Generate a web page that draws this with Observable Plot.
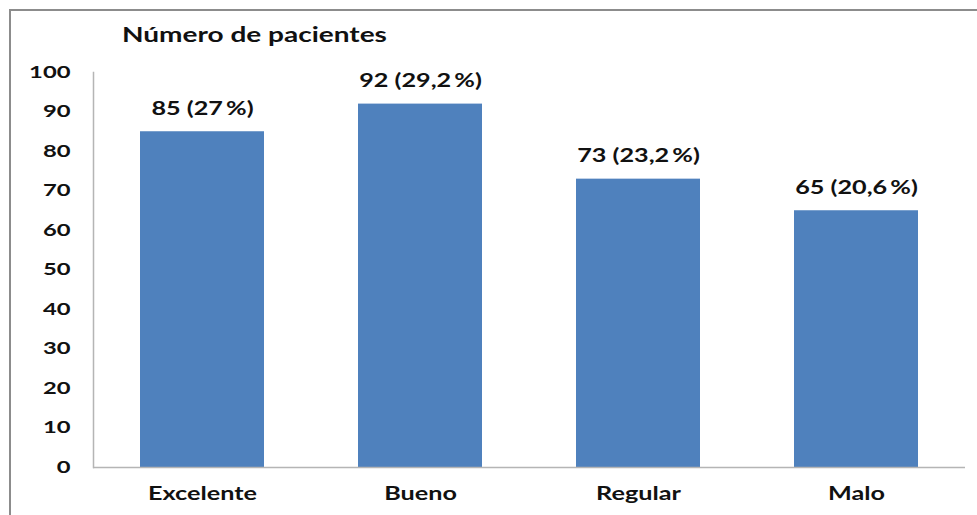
<!DOCTYPE html>
<html>
<head>
<meta charset="utf-8">
<script src="https://cdn.jsdelivr.net/npm/d3@7"></script>
<script src="https://cdn.jsdelivr.net/npm/@observablehq/plot@0.6"></script>
<style>
  html, body { margin: 0; padding: 0; background: #fff; }
  #wrap { position: relative; width: 977px; height: 515px; overflow: hidden; font-family: Lato, "Open Sans", sans-serif; }
  #border { position: absolute; left: 9px; top: 9px; width: 1000px; height: 600px; border: 2px solid #8c8c8c; box-sizing: border-box; }
  #title { position: absolute; left: 122px; top: 22px; font-size: 20px; font-weight: bold; color: #111; transform: scaleX(1.4); transform-origin: left center; white-space: nowrap; }
  #chart { position: absolute; left: 0; top: 0; }
</style>
</head>
<body>
<div id="wrap">
  <div id="border"></div>
  <div id="title">Número de pacientes</div>
  <div id="chart"></div>
</div>
<script>
const categories = ["Excelente", "Bueno", "Regular", "Malo"];
const values = [85, 92, 73, 65];
const percents = ["27", "29,2", "23,2", "20,6"];
const yTicks = [0, 10, 20, 30, 40, 50, 60, 70, 80, 90, 100];

const rows = categories.map((c, i) => ({
  category: c,
  value: values[i],
  label: `${values[i]} (${percents[i]}\u2009%)`
}));

const chart = Plot.plot({
  width: 977,
  height: 515,
  marginLeft: 93,
  marginRight: 12,
  marginTop: 72,
  marginBottom: 48,
  style: { fontFamily: "Lato, 'Open Sans', sans-serif", background: "transparent", color: "#111" },
  x: { domain: categories, paddingInner: 0.43, paddingOuter: 0.215, label: null },
  y: { domain: [0, 100], label: null },
  marks: [
    Plot.barY(rows, { x: "category", y: "value", fill: "#4f81bd" }),
    Plot.ruleY([0], { stroke: "#b5b5b5", strokeWidth: 1.5 }),
    Plot.frame({ anchor: "left", stroke: "#b5b5b5", strokeWidth: 1.5 }),
    Plot.axisY(yTicks, { tickSize: 0, tickPadding: 23, fontSize: 17, fontWeight: "bold", label: null }),
    Plot.axisX({ tickSize: 0, tickPadding: 20, fontSize: 18, fontWeight: "bold", label: null }),
    Plot.text(rows, { x: "category", y: "value", text: "label", dy: -23, fontSize: 18, fontWeight: "bold", fill: "#111" })
  ]
});
document.getElementById("chart").appendChild(chart);

// Widen the lettering horizontally, keeping each label's anchor in place.
d3.select(chart).selectAll("text").each(function () {
  const w = this.getComputedTextLength();
  if (w > 0) {
    this.setAttribute("textLength", (w * 1.4).toFixed(1));
    this.setAttribute("lengthAdjust", "spacingAndGlyphs");
  }
});
</script>
</body>
</html>
